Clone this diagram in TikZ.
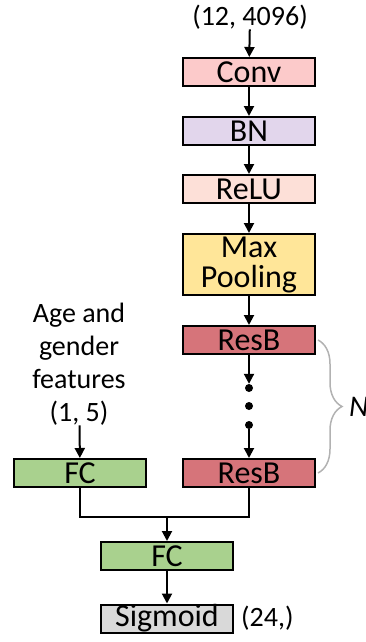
\documentclass[tikz,border=0pt]{standalone}
\usepackage{fontspec}
\setmainfont{Carlito}
\usetikzlibrary{arrows.meta,decorations.pathreplacing}

\definecolor{convcol}{HTML}{FCCACA}
\definecolor{bncol}{HTML}{E2D6EC}
\definecolor{relucol}{HTML}{FDE0D8}
\definecolor{poolcol}{HTML}{FFE699}
\definecolor{rescol}{HTML}{D6747A}
\definecolor{fccol}{HTML}{A9D18E}
\definecolor{sigcol}{HTML}{D9D9D9}

\tikzset{
	layer/.style={draw=black,line width=2pt,minimum width=132pt,minimum height=28pt,
		inner sep=0pt,font=\fontsize{32}{32}\selectfont},
	note/.style={font=\fontsize{28}{33}\selectfont,align=center,inner sep=0pt},
	flow/.style={-{Triangle[length=10pt,width=10pt]},line width=2pt},
	mergeline/.style={line width=2pt},
	dot/.style={circle,fill=black,minimum size=8pt,inner sep=0pt}
}

\begin{document}
\begin{tikzpicture}[x=1pt,y=-1pt]
	\useasboundingbox (0,0) rectangle (365,642);

% main branch
	\node[note] (inp) at (250,17) {(12, 4096)};
	\node[layer,fill=convcol] (conv) at (249,72) {Conv};
	\node[layer,fill=bncol] (bn) at (249,131) {BN};
	\node[layer,fill=relucol] (relu) at (249,189) {ReLU};
	\node[layer,fill=poolcol,minimum height=61pt,align=center,
		font=\fontsize{32}{30}\selectfont] (pool) at (249,264.5) {Max\\Pooling};
	\node[layer,fill=rescol] (res1) at (249,340) {ResB};
	\node[dot] (d1) at (249,388) {};
	\node[dot] (d2) at (249,406) {};
	\node[dot] (d3) at (249,425) {};
	\node[layer,fill=rescol] (res2) at (249,473) {ResB};

% side branch
	\node[note] (feat) at (79,364) {Age and\\gender\\features\\(1, 5)};
	\node[layer,fill=fccol] (fc1) at (80,473) {FC};

% head
	\node[layer,fill=fccol] (fc2) at (167,556) {FC};
	\node[layer,fill=sigcol] (sig) at (167,618.5) {Sigmoid};
	\node[note,anchor=west] (out) at (241,618) {(24,)};
	\coordinate (merge) at (167,517);

	%Links
	\draw[flow] (inp) -- (conv);
	\draw[flow] (conv) -- (bn);
	\draw[flow] (bn) -- (relu);
	\draw[flow] (relu) -- (pool);
	\draw[flow] (pool) -- (res1);
	\draw[flow] (res1) -- (d1);
	\draw[flow] (d3) -- (res2);
	\draw[flow] (feat) -- (fc1);
	\draw[mergeline] (fc1.south) |- (merge) -| (res2.south);
	\draw[flow] (merge) -- (fc2);
	\draw[flow] (fc2) -- (sig);

	% repeat brace
	\draw[gray!60,line width=1.5pt,decorate,decoration={brace,amplitude=24pt}]
		([xshift=2pt]res1.east) -- ([xshift=2pt]res2.east)
		node[midway,xshift=27pt,anchor=west,black,font=\fontsize{30}{30}\selectfont\itshape] (nrep) {N};
\end{tikzpicture}
\end{document}
